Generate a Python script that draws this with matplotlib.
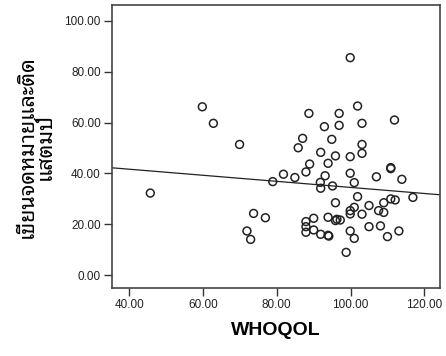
import matplotlib
matplotlib.use("Agg")
import matplotlib.pyplot as plt
import numpy as np

# WHOQOL score vs. Thai item score
whoqol = [99.9, 59.8, 62.8, 69.9, 45.7, 73.7, 76.9, 71.9, 72.9, 78.9,
          81.8, 84.9, 85.8, 87.0, 88.7, 87.9, 88.9, 87.9, 87.9, 87.9,
          90.0, 90.0, 91.9, 91.9, 92.9, 93.1, 91.8, 91.9, 93.9, 94.9,
          95.9, 95.1, 93.9, 93.9, 94.1, 96.9, 96.9, 95.9, 95.9, 96.3,
          97.2, 99.9, 99.9, 101.0, 101.9, 103.1, 103.1, 103.1, 101.9, 101.0,
          99.9, 99.9, 103.1, 99.9, 101.0, 98.8, 105.0, 105.0, 107.0, 107.6,
          109.0, 109.0, 108.1, 110.0, 110.9, 110.9, 110.9, 112.1, 111.9, 113.9,
          113.1, 116.9]
score = [85.5, 66.2, 59.7, 51.4, 32.3, 24.3, 22.6, 17.4, 14.1, 36.8,
         39.7, 38.4, 50.1, 53.8, 63.6, 40.6, 43.7, 21.1, 19.1, 16.9,
         22.4, 17.8, 48.3, 16.1, 58.4, 39.1, 36.5, 34.2, 44.0, 53.4,
         46.9, 35.1, 22.8, 15.7, 15.4, 63.6, 58.9, 28.5, 21.5, 22.0,
         21.7, 46.6, 40.1, 36.4, 66.5, 59.7, 51.4, 47.9, 30.9, 26.7,
         25.4, 24.1, 24.0, 17.4, 14.5, 9.0, 27.4, 19.1, 38.7, 25.4,
         28.5, 24.7, 19.4, 15.2, 42.3, 41.9, 30.0, 29.6, 61.0, 37.7,
         17.4, 30.6]

xticks = [40, 60, 80, 100, 120]
yticks = [0, 20, 40, 60, 80, 100]

plt.rcParams['font.family'] = ['Liberation Sans', 'DejaVu Sans']

fig = plt.figure(figsize=(4.46, 3.56), dpi=100)
ax = fig.add_axes([0.251, 0.191, 0.736, 0.795])

ax.scatter(whoqol, score, s=32, facecolors='none', edgecolors='#222222',
           linewidths=1.1, zorder=3)

# linear fit line
b, a = np.polyfit(whoqol, score, 1)
xlim = (35.3, 124.3)
xs = np.array(xlim)
ax.plot(xs, a + b * xs, color='#222222', lw=0.9, zorder=2)

ax.set_xlim(xlim)
ax.set_ylim(-5, 106.2)
ax.set_xticks(xticks)
ax.set_yticks(yticks)
ax.set_xticklabels(["%.2f" % v for v in xticks])
ax.set_yticklabels(["%.2f" % v for v in yticks])
ax.tick_params(direction='out', length=6, width=1, color='#333333',
               labelsize=8.5, labelcolor='#222222', pad=2)
for sp in ax.spines.values():
    sp.set_color('#444444')
    sp.set_linewidth(1.2)

ax.set_xlabel("WHOQOL", fontsize=14, fontweight='bold', labelpad=8)
ax.set_ylabel("เขียนจดหมายและติด\nแสตมป์", fontsize=15.5, fontweight='bold',
              family=['Noto Sans Thai Looped', 'Sarabun', 'Noto Sans Thai',
                      'DejaVu Sans'],
              linespacing=0.85, labelpad=6)

fig.savefig("out.png")
